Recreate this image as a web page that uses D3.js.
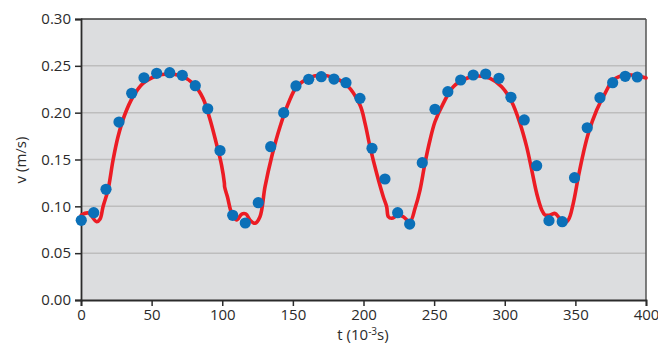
<!DOCTYPE html>
<html><head><meta charset="utf-8">
<script src="https://cdn.jsdelivr.net/npm/d3@7"></script>
<style>body{margin:0;background:#fff}svg{display:block}text{font-family:"Open Sans","Noto Sans",sans-serif;fill:#2b2b2b}</style>
</head><body><svg id="c" width="658" height="345"></svg>
<script>
// measured data (t in 10^-3 s, v in m/s)
const pointT = [0.2,9.0,17.7,26.9,35.9,44.6,53.6,62.8,71.7,80.9,89.7,98.4,107.4,116.3,125.5,134.3,143.5,152.2,161.2,170.1,179.1,187.6,197.5,206.0,215.2,224.2,232.7,241.6,250.6,259.7,268.8,277.7,286.5,295.9,304.4,313.8,322.6,331.3,340.7,349.4,358.4,367.4,376.4,385.3,393.8];
const pointV = [0.0851,0.0932,0.1182,0.190,0.2207,0.2373,0.2420,0.2427,0.2399,0.2288,0.2042,0.1596,0.0904,0.0822,0.1039,0.1637,0.2000,0.2285,0.2356,0.2384,0.2359,0.2320,0.2153,0.1620,0.1292,0.0932,0.0811,0.1466,0.2036,0.2224,0.2349,0.2402,0.2413,0.2367,0.2164,0.1922,0.1434,0.0847,0.0836,0.1306,0.1839,0.2160,0.2320,0.2388,0.2381];
// fitted curve
const curveT = [0.2,5.2,11.1,13.5,15.6,19.1,22.7,26.2,30.9,36.8,43.9,53.3,61.6,71.0,79.3,86.4,91.1,95.8,99.5,101.5,101.7,103.7,106.7,110.2,113.8,116.8,119.6,123.2,126.7,130.3,135.0,140.9,146.8,152.7,160.9,169.2,178.6,188.1,197.5,201.1,204.6,209.3,214.0,216.4,217.6,220.0,224.6,228.2,232.9,236.5,240.0,243.5,247.1,250.6,256.5,263.6,273.1,281.3,289.6,297.8,304.9,310.8,315.5,319.1,322.6,326.2,328.5,332.0,335.6,337.9,341.5,345.0,348.5,352.1,355.6,359.2,365.1,371.0,376.9,385.1,394.6,400];
const curveV = [0.0907,0.0929,0.0836,0.0865,0.0996,0.1174,0.1495,0.1743,0.1975,0.2170,0.2313,0.2391,0.2413,0.2391,0.2313,0.2153,0.1940,0.1673,0.1441,0.1249,0.1206,0.1100,0.0926,0.0854,0.0918,0.0918,0.0854,0.0819,0.0889,0.1210,0.1530,0.1850,0.2100,0.2277,0.2367,0.2402,0.2375,0.2295,0.2082,0.1886,0.1637,0.1353,0.1103,0.0996,0.0889,0.0872,0.0907,0.0889,0.0836,0.0979,0.1174,0.1459,0.1708,0.1903,0.2100,0.2277,0.2367,0.2391,0.2367,0.2277,0.2117,0.1886,0.1637,0.1388,0.1139,0.0961,0.0907,0.0907,0.0924,0.0889,0.0822,0.0854,0.1032,0.1316,0.1566,0.1780,0.2028,0.2207,0.2349,0.2402,0.2391,0.2370];
const xTicks = [0,50,100,150,200,250,300,350,400];
const yTicks = [0,0.05,0.10,0.15,0.20,0.25,0.30];

const svg = d3.select("#c");
const L=81,R=646,T=19,B=300;
const x = d3.scaleLinear().domain([0,400]).range([L,R]);
const y = d3.scaleLinear().domain([0,0.30]).range([B,T]);

svg.append("rect").attr("x",L).attr("y",T).attr("width",R-L).attr("height",B-T).attr("fill","#dcdddf");
svg.append("g").selectAll("line").data(yTicks.filter(d=>d>0&&d<0.3)).join("line")
  .attr("x1",L).attr("x2",R).attr("y1",d=>y(d)).attr("y2",d=>y(d))
  .attr("stroke","#bdbdbd").attr("stroke-width",1.5);
// frame top/right
svg.append("line").attr("x1",L).attr("x2",R).attr("y1",T).attr("y2",T).attr("stroke","#3a3a3a").attr("stroke-width",1.5);
svg.append("line").attr("x1",R).attr("x2",R).attr("y1",T).attr("y2",B).attr("stroke","#555").attr("stroke-width",1.5);

const xa = svg.append("g").attr("transform",`translate(0,${B})`)
  .call(d3.axisBottom(x).tickValues(xTicks).tickFormat(d3.format("d")).tickSizeOuter(0).tickSize(6).tickPadding(3));
const ya = svg.append("g").attr("transform",`translate(${L},0)`)
  .call(d3.axisLeft(y).tickValues(yTicks).tickFormat(d3.format(".2f")).tickSizeOuter(0).tickSize(6).tickPadding(4));
[xa,ya].forEach(g=>{
  g.select(".domain").attr("stroke","#2b2b2b").attr("stroke-width",1.8);
  g.selectAll(".tick line").attr("stroke","#2b2b2b").attr("stroke-width",1.5);
  g.selectAll(".tick text").attr("font-size",15).attr("fill","#2b2b2b").attr("font-family","'Open Sans',sans-serif");
});

const line = d3.line().x((d,i)=>x(curveT[i])).y((d,i)=>y(curveV[i])).curve(d3.curveCatmullRom.alpha(0.5));
svg.append("path").datum(curveT).attr("d",line).attr("fill","none").attr("stroke","#ec1c24").attr("stroke-width",3.6).attr("stroke-linejoin","round").attr("stroke-linecap","round");

svg.append("g").selectAll("circle").data(pointT).join("circle")
  .attr("cx",(d)=>x(d)).attr("cy",(d,i)=>y(pointV[i])).attr("r",5.6).attr("fill","#0b70b8");

const xl = svg.append("text").attr("x",363).attr("y",340).attr("text-anchor","middle").attr("font-size",15);
xl.append("tspan").text("t (10");
xl.append("tspan").text("-3").attr("font-size",10).attr("dy",-5);
xl.append("tspan").text("s)").attr("dy",5);
svg.append("text").attr("transform","translate(26,160) rotate(-90)").attr("text-anchor","middle").attr("font-size",15).text("v (m/s)");
</script></body></html>
